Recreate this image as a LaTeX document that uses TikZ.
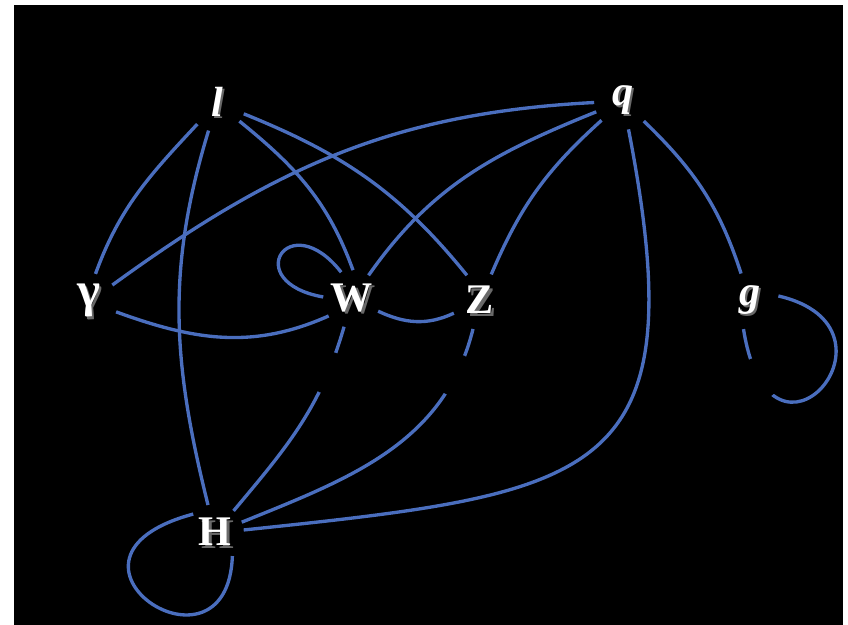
\documentclass[tikz,border=0pt]{standalone}
\usepackage{xcolor}
\usepackage{fontspec}
\setmainfont{Liberation Serif}
\usepackage{tikz}
\definecolor{edgeblue}{RGB}{74,110,190}
\definecolor{shadegray}{RGB}{105,105,105}
\newcommand{\shadowed}[1]{\makebox[0pt][l]{\hspace{1.4pt}\raisebox{-1.4pt}{\color{shadegray}#1}}{\color{white}#1}}
\tikzset{
  vertex/.style={circle, minimum size=1.14cm, inner sep=0pt,
    font=\fontsize{24}{28}\selectfont\bfseries},
  edgeline/.style={draw=edgeblue, line width=1.9pt},
  cutmark/.style={circle, fill=black, minimum size=0.85cm, inner sep=0pt}
}

\begin{document}
\begin{tikzpicture}
  % backdrop
  \useasboundingbox (0,0) rectangle (16.96,12.5);
  \fill[white] (0,0) rectangle (16.96,12.5);
  \fill[black] (0.28,0) rectangle (16.86,12.4);

  \node[vertex] (l)   at (4.34,10.44) {\shadowed{\itshape l}};
  \node[vertex] (q)   at (12.46,10.48) {\shadowed{\itshape q}};
  \node[vertex] (gam) at (1.78,6.46) {\shadowed{\fontsize{28}{30}\selectfont γ}};
  \node[vertex] (W)   at (7.04,6.52) {\shadowed{W}};
  \node[vertex] (Z)   at (9.60,6.48) {\shadowed{Z}};
  \node[vertex] (g)   at (15.00,6.48) {\shadowed{\itshape g}};
  \node[vertex] (H)   at (4.30,1.84) {\shadowed{H}};

  % edges from l
  \draw[edgeline] (l) to[out=227,in=70] (gam.77);
  \draw[edgeline] (l) to[out=253,in=104] (H);
  \draw[edgeline] (l) to[out=321,in=110] (W.88);
  \draw[edgeline] (l) to[out=338,in=129] (Z.117);
  % edges from q
  \draw[edgeline] (q) to[out=183,in=36] (gam);
  \draw[edgeline] (q) to[out=202,in=55] (W);
  \draw[edgeline] (q) to[out=222,in=67] (Z);
  \draw[edgeline] (q) to[out=281,in=6,looseness=1.65] (H);
  \draw[edgeline] (q) to[out=316,in=108] (g);
  % middle row
  \draw[edgeline] (gam) to[out=-20,in=204] (W.216);
  \draw[edgeline] (W) to[out=-25,in=205] (Z);
  \draw[edgeline] (W) to[out=254,in=50] node[cutmark,pos=0.21] (cutWH) {} (H);
  \draw[edgeline] (Z) to[out=256,in=22] node[cutmark,pos=0.15] (cutZH) {} (H);
  % loops
  \draw[edgeline] (W.112) to[out=128,in=170,distance=1.7cm] (W.176);
  \draw[edgeline] (H.139) to[out=195,in=268,out distance=3.4cm,in distance=2.7cm] (H.-53);
  \draw[edgeline] (g.10) to[out=-13,in=279,out distance=2.8cm,in distance=3.4cm]
    node[cutmark,pos=0.87] (cutg) {} (g.257);
\end{tikzpicture}
\end{document}
